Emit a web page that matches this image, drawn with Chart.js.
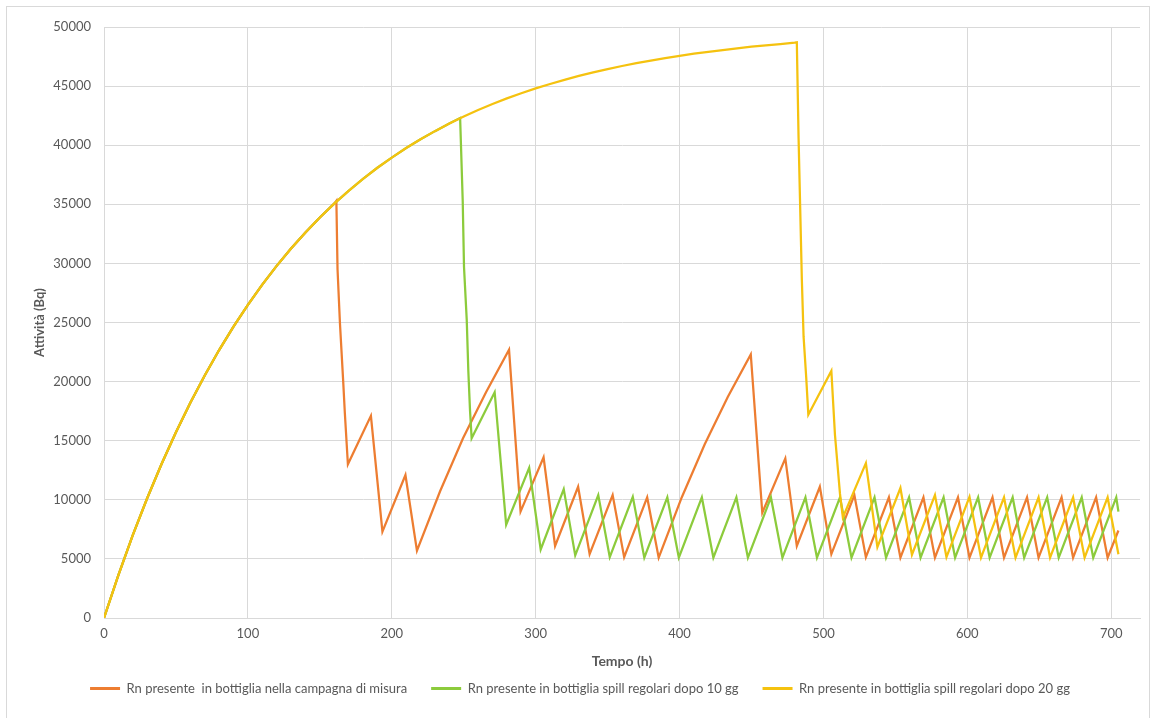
<!DOCTYPE html>
<html>
<head>
<meta charset="utf-8">
<script src="https://cdn.jsdelivr.net/npm/chart.js@4.4.1/dist/chart.umd.min.js"></script>
<style>
  html, body { margin: 0; padding: 0; background: #ffffff; overflow: hidden; }
  #frame { position: absolute; left: 6px; top: 6px; width: 1144px; height: 712px;
           border: 1px solid #d9d9d9; border-bottom: none; box-sizing: border-box; }
  #wrap { position: absolute; left: 0; top: 0; width: 1156px; height: 718px; }
</style>
</head>
<body>
<div id="frame"></div>
<div id="wrap"><canvas id="c" width="1156" height="718"></canvas></div>
<script>
// Radon build-up in the closed bottle (shared by all three cases until the first spill)
const riseHours = [0, 10, 20, 30, 40, 50, 60, 70, 80, 90, 100, 110, 120, 130, 140, 150, 160,
  170, 180, 190, 200, 210, 220, 230, 240, 250, 260, 270, 280, 290, 300, 310, 320, 330, 340,
  350, 360, 370, 380, 390, 400, 410, 420, 430, 440, 450, 460, 470, 480];
const riseBq = [0, 3630, 7010, 10130, 13030, 15720, 18210, 20520, 22670, 24650, 26500, 28210,
  29790, 31260, 32620, 33890, 35060, 36140, 37150, 38090, 38950, 39760, 40500, 41190, 41830,
  42420, 42980, 43490, 43960, 44400, 44810, 45180, 45530, 45860, 46160, 46440, 46700, 46940,
  47160, 47370, 47560, 47740, 47900, 48050, 48190, 48330, 48450, 48560, 48670];

// Measurement campaign: spills from hour 161
const campaignHours = [161.5, 162.3, 164, 166.2, 167.4, 169.5, 185.5, 193.5, 209.5, 217.5,
  233.5, 249.5, 265.5, 281.5, 289.5, 305.5, 313.5, 329.5, 337.5, 353.5, 361.5, 377.5, 385.5,
  401.5, 417.5, 433.5, 449.5, 457.5, 473.5, 481.5, 497.5, 505.5, 521.5, 529.5, 545.5, 553.5,
  569.5, 577.5, 593.5, 601.5, 617.5, 625.5, 641.5, 649.5, 665.5, 673.5, 689.5, 697.5, 705];
const campaignBq = [35300, 29500, 24900, 20100, 17300, 13000, 17100, 7300, 12100, 5700,
  10700, 15200, 19100, 22700, 9000, 13600, 6100, 11100, 5400, 10400, 5150, 10200, 5100,
  10200, 14700, 18700, 22300, 8900, 13500, 6100, 11100, 5400, 10400, 5150, 10200, 5100,
  10200, 5100, 10200, 5100, 10200, 5100, 10200, 5100, 10200, 5100, 10200, 5100, 7400];

// Regular spills starting after 10 days
const spill10Hours = [247.5, 249.3, 250.2, 252.1, 253.2, 254.4, 255.5, 271.5, 279.5, 295.5,
  303.5, 319.5, 327.5, 343.5, 351.5, 367.5, 375.5, 391.5, 399.5, 415.5, 423.5, 439.5, 447.5,
  463.5, 471.5, 487.5, 495.5, 511.5, 519.5, 535.5, 543.5, 559.5, 567.5, 583.5, 591.5, 607.5,
  615.5, 631.5, 639.5, 655.5, 663.5, 679.5, 687.5, 703.5, 705];
const spill10Bq = [42300, 35300, 29700, 25200, 20900, 17500, 15200, 19100, 7900, 12700,
  5800, 10900, 5300, 10400, 5150, 10250, 5100, 10200, 5100, 10200, 5100, 10200, 5100,
  10200, 5100, 10200, 5100, 10200, 5100, 10200, 5100, 10200, 5100, 10200, 5100, 10200,
  5100, 10200, 5100, 10200, 5100, 10200, 5100, 10200, 9000];

// Regular spills starting after 20 days
const spill20Hours = [481.5, 482.7, 485, 486.2, 488, 489.5, 505.5, 508, 511.5, 513.5, 529.5,
  537.5, 553.5, 561.5, 577.5, 585.5, 601.5, 609.5, 625.5, 633.5, 649.5, 657.5, 673.5, 681.5,
  697.5, 705];
const spill20Bq = [48700, 40700, 28600, 23800, 20400, 17200, 20900, 15500, 10500, 8500, 13100,
  6000, 11000, 5350, 10400, 5150, 10250, 5100, 10200, 5100, 10200, 5100, 10200, 5100,
  10200, 5400];

const seriesLabels = [
  'Rn presente  in bottiglia nella campagna di misura',
  'Rn presente in bottiglia spill regolari dopo 10 gg',
  'Rn presente in bottiglia spill regolari dopo 20 gg'
];

// Build-up part up to the first spill, followed by the spill cycle
function buildSeries(hours, values) {
  const start = hours[0];
  const pts = [];
  riseHours.forEach((h, i) => { if (h < start) pts.push({ x: h, y: riseBq[i] }); });
  hours.forEach((h, i) => pts.push({ x: h, y: values[i] }));
  return pts;
}

const textColor = '#595959';
const gridColor = '#d9d9d9';
Chart.defaults.font.family = 'Lato, "Open Sans", "DejaVu Sans", sans-serif';

new Chart(document.getElementById('c'), {
  type: 'line',
  data: {
    datasets: [
      { label: seriesLabels[0], data: buildSeries(campaignHours, campaignBq),
        borderColor: '#ED7D31', backgroundColor: '#ED7D31', borderWidth: 2.25, order: 3 },
      { label: seriesLabels[1], data: buildSeries(spill10Hours, spill10Bq),
        borderColor: '#8CCB3C', backgroundColor: '#8CCB3C', borderWidth: 2.25, order: 2 },
      { label: seriesLabels[2], data: buildSeries(spill20Hours, spill20Bq),
        borderColor: '#F5C20F', backgroundColor: '#F5C20F', borderWidth: 2.25, order: 1 }
    ]
  },
  options: {
    responsive: false,
    animation: false,
    layout: { padding: { left: 20, right: 16, top: 27, bottom: 13 } },
    elements: {
      line: { tension: 0 },
      point: { radius: 0, hoverRadius: 0 }
    },
    scales: {
      x: {
        type: 'linear', min: 0, max: 720,
        ticks: { stepSize: 100, includeBounds: false, padding: 8, color: textColor,
                 font: { size: 13 }, maxRotation: 0, callback: v => String(v) },
        grid: { color: gridColor, drawTicks: false },
        border: { color: gridColor },
        title: { display: true, text: 'Tempo (h)', color: textColor,
                 font: { size: 14, weight: 'bold' }, padding: { top: 0, bottom: -12 } },
        afterFit(scale) { scale.height = 40; }
      },
      y: {
        min: 0, max: 50000,
        ticks: { stepSize: 5000, padding: 13, color: textColor, font: { size: 13 },
                 callback: v => String(v) },
        grid: { color: gridColor, drawTicks: false },
        border: { color: gridColor },
        title: { display: true, text: 'Attività (Bq)', color: textColor,
                 font: { size: 13, weight: 'bold' }, padding: { top: 12, bottom: 0 } },
        afterFit(scale) { scale.width = 84; }
      }
    },
    plugins: {
      legend: {
        position: 'bottom',
        labels: {
          usePointStyle: true, pointStyle: 'line', pointStyleWidth: 30,
          padding: 24, color: textColor, font: { size: 13 },
          sort: (a, b) => a.datasetIndex - b.datasetIndex,
          generateLabels(chart) {
            const items = Chart.defaults.plugins.legend.labels.generateLabels(chart);
            items.forEach(item => { item.lineWidth = 3; });
            return items;
          }
        }
      },
      tooltip: { enabled: false }
    }
  }
});
</script>
</body>
</html>
